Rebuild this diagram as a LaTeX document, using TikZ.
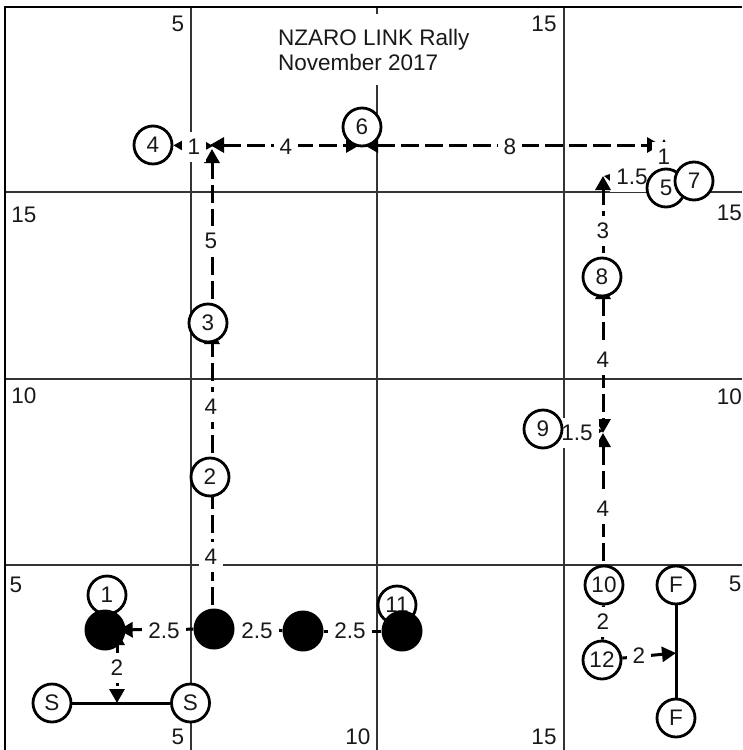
\documentclass[tikz,border=0pt]{standalone}
\usepackage{fontspec}
\setmainfont{Liberation Sans}
\usetikzlibrary{arrows.meta,backgrounds}
\tikzset{
  x=1pt,y=-1pt,
  txt/.style={font=\fontsize{22.5}{26}\selectfont,inner sep=0pt,text=black!90},
  titlebox/.style={font=\fontsize{22.5}{25}\selectfont,fill=white,align=left,inner xsep=6pt,inner ysep=0pt,minimum height=71pt,text=black!90},
  ctrl/.style={circle,draw=black,fill=white,line width=2.8pt,minimum size=38pt,inner sep=0pt,font=\fontsize{22.5}{26}\selectfont,text=black!90},
  blob/.style={circle,fill=black,minimum size=41pt,inner sep=0pt},
  gridline/.style={draw=black!80,line width=1.2pt},
  leg/.style={line width=3pt,line cap=butt,dash pattern=on 18pt off 6pt},
  solidleg/.style={line width=3pt},
  tip/.style={-{Triangle[length=14pt,width=15pt]}},
  tips/.style={{Triangle[length=14pt,width=15pt]}-{Triangle[length=14pt,width=15pt]}},
  lab/.style={fill=white,font=\fontsize{22.5}{26}\selectfont,inner xsep=6pt,inner ysep=7pt,text=black!90}
}
\begin{document}
\begin{tikzpicture}
\useasboundingbox (0,0) rectangle (742,750);
% controls
\node[ctrl] (n1) at (107,595) {1};
\node[ctrl] (n11) at (397,605) {11};
\node[blob] (a) at (105,630) {};
\node[blob] (b) at (214,629) {};
\node[blob] (c) at (303,631) {};
\node[blob] (d) at (402,631) {};
\node[ctrl] (n2) at (210,477) {2};
\node[ctrl] (n3) at (208,323) {3};
\node[ctrl] (n4) at (153,145) {4};
\node[ctrl] (n6) at (362,127) {6};
\node[ctrl] (n5) at (666,188) {5};
\node[ctrl] (n7) at (694,181) {7};
\node[ctrl] (n8) at (602,277) {8};
\node[ctrl] (n9) at (543,429) {9};
\node[ctrl] (n10) at (604,585) {10};
\node[ctrl] (n12) at (602,660) {12};
\node[ctrl] (s1) at (52,703) {S};
\node[ctrl] (s2) at (190.5,703) {S};
\node[ctrl] (f1) at (676,585) {F};
\node[ctrl] (f2) at (676,718) {F};
% junction points
\coordinate (ja) at (117,631);
\coordinate (js) at (117,703);
\coordinate (jb) at (212,629);
\coordinate (j2) at (212,477);
\coordinate (j2t) at (212,477);
\coordinate (j3b) at (212,330);
\coordinate (j3) at (212,323);
\coordinate (jv) at (212,149);
\coordinate (jl) at (210,145);
\coordinate (jr) at (213,146);
\coordinate (j6l) at (360,145);
\coordinate (j6r) at (364,145);
\coordinate (je) at (661,145);
\coordinate (jn) at (664,139);
\coordinate (j5) at (664,188);
\coordinate (ju) at (603,176);
\coordinate (ju2) at (604,176);
\coordinate (j8) at (603,277);
\coordinate (j8b) at (603,285);
\coordinate (jm) at (603,433);
\coordinate (jm2) at (603,431);
\coordinate (j10) at (603,585);
\coordinate (jf) at (676,653);
\begin{scope}[on background layer]
% grid
\draw[gridline] (191,7) -- (191,750);
\draw[gridline] (377,7) -- (377,750);
\draw[gridline] (564,7) -- (564,750);
\draw[gridline] (5,192) -- (742,192);
\draw[gridline] (5,379) -- (742,379);
\draw[gridline] (5,565) -- (742,565);
\draw[black,line width=2pt] (5,750) -- (5,7) -- (742,7);
% solid
\draw[solidleg] (s1) -- (s2);
\draw[solidleg] (f1) -- (f2);
% legs
\draw[leg,tips] (ja) -- (js) node[lab] at (117,668) {2};
\draw[leg,tip,shorten >=-7pt] (b) -- (a) node[lab] at (164,631) {2.5};
\draw[leg] (c) -- (b) node[lab] at (257,631) {2.5};
\draw[leg] (d) -- (c) node[lab] at (350,631) {2.5};
\draw[leg] (jb) -- (j2) node[lab] at (211,557) {4};
\draw[leg,tip] (j2t) -- (j3b) node[lab] at (211,407) {4};
\draw[leg,tip] (j3) -- (jv) node[lab] at (211,241) {5};
\draw[leg,tips] (n4) -- (jr) node[lab] at (194,147) {1};
\draw[leg,tips] (jl) -- (j6l) node[lab] at (286,147) {4};
\draw[leg,tips] (j6r) -- (je) node[lab] at (510,147) {8};
\draw[leg,tip] (j5) -- (jn) node[lab] at (664,157) {1};
\draw[leg,tip] (n5) -- (ju2) node[lab] at (632,177) {1.5};
\draw[leg,tip] (j8) -- (ju) node[lab] at (603,231) {3};
\draw[leg,tips] (j8b) -- (jm) node[lab] at (603,360) {4};
\draw[leg,tip] (j10) -- (jm) node[lab] at (603,509) {4};
\draw[leg,tip] (n9) -- (jm2) node[lab] at (577,433) {1.5};
\draw[leg] (n10) -- (n12) node[lab] at (603,622) {2};
\draw[leg,tip] (n12) -- (jf) node[lab] at (639,656) {2};
\end{scope}
% corner numbers and title
\node[txt] (g1) at (178,24) {5};
\node[txt] (g2) at (544,24) {15};
\node[txt] (g3) at (16,585) {5};
\node[txt] (g4) at (24,215) {15};
\node[txt] (g5) at (24,396) {10};
\node[txt,anchor=east] (g6) at (742,213) {15};
\node[txt,anchor=east] (g7) at (742,397) {10};
\node[txt] (g8) at (735,584) {5};
\node[txt] (g9) at (178,737) {5};
\node[txt] (g10) at (358,737) {10};
\node[txt] (g11) at (544,737) {15};
\node[titlebox,anchor=west] (title) at (272,49.5) {NZARO LINK Rally\\November 2017};
\end{tikzpicture}
\end{document}
